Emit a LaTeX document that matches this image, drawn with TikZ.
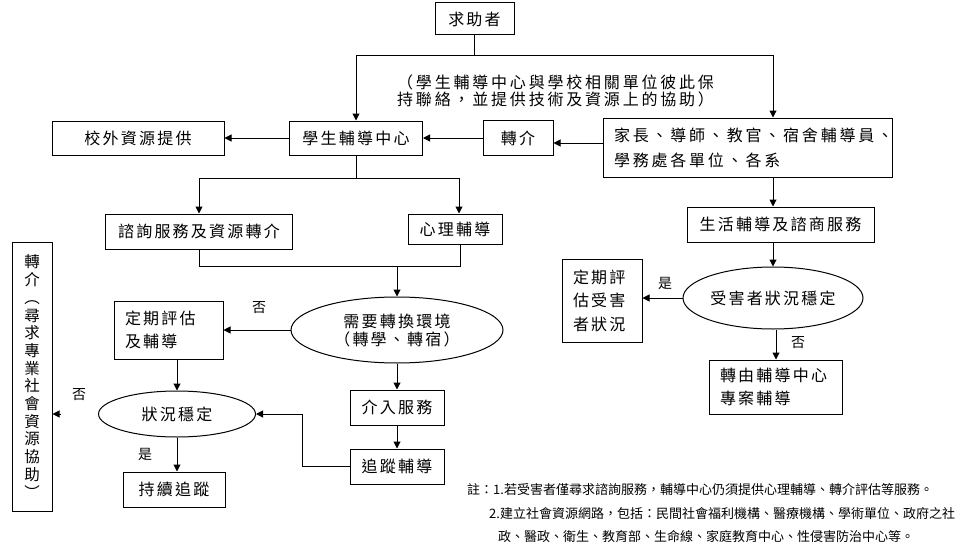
\documentclass[tikz,border=0pt]{standalone}
\usepackage{fontspec}
\setmainfont{Noto Sans CJK TC}
\newfontfamily\bxfont[LetterSpace=14]{Noto Sans CJK TC}
\newfontfamily\bxwide[LetterSpace=17.5]{Noto Sans CJK TC}
\newfontfamily\notefont{Noto Sans CJK TC}
\usetikzlibrary{shapes.geometric,arrows.meta}
\begin{document}
\begin{tikzpicture}[x=1pt,y=-1pt,
  every node/.style={inner sep=0pt},
  box/.style={draw, line width=1pt, font=\bxfont\fontsize{16}{18}\selectfont, align=center},
  lbox/.style={box, align=left, inner xsep=11pt},
  oval/.style={draw, ellipse, line width=1pt, font=\bxfont\fontsize{16}{18}\selectfont, align=center},
  arr/.style={line width=1pt, -{Triangle[length=7pt,width=7pt]}},
  ln/.style={line width=1pt},
  lab/.style={font=\fontsize{14}{17}\selectfont},
  note/.style={anchor=west, font=\notefont\fontsize{13}{16}\selectfont}]
\fill[white] (0,0) rectangle (956,543);
\useasboundingbox (0,0) rectangle (956,543);

% nodes
\node[box, minimum width=79pt, minimum height=32pt] (ask) at (474.5,19) {求助者};
\node[anchor=west, align=left, font=\bxwide\fontsize{16}{17}\selectfont] (ann) at (397,90.5)
  {（學生輔導中心與學校相關單位彼此保\\持聯絡，並提供技術及資源上的協助）};
\node[box, minimum width=172pt, minimum height=34pt] (ext) at (138,138) {校外資源提供};
\node[box, minimum width=133pt, minimum height=34pt] (sc) at (356,138) {學生輔導中心};
\node[box, minimum width=70pt, minimum height=35pt] (ref) at (518,138) {轉介};
\node[lbox, font=\bxwide\fontsize{16}{25}\selectfont, text width=267pt, minimum height=59pt] (par) at (747.5,147.5)
  {家長、導師、教官、宿舍輔導員、\\學務處各單位、各系};
\node[box, minimum width=187pt, minimum height=35pt] (cons) at (199,231.5) {諮詢服務及資源轉介};
\node[box, minimum width=94pt, minimum height=30pt] (psy) at (455,229) {心理輔導};
\node[box, minimum width=187pt, minimum height=35pt] (life) at (780.5,224.5) {生活輔導及諮商服務};
\node[oval, font=\bxfont\fontsize{16}{18}\selectfont, minimum width=212pt, minimum height=66pt] (env) at (397,330)
  {需要轉換環境\\（轉學、轉宿）};
\node[lbox, font=\bxfont\fontsize{16}{23}\selectfont, text width=87pt, minimum height=58pt] (per) at (168.5,330)
  {定期評估\\及輔導};
\node[oval, minimum width=157pt, minimum height=46pt] (stab) at (177,414) {狀況穩定};
\node[box, minimum width=102pt, minimum height=35pt] (cont) at (174,489.5) {持續追蹤};
\node[box, font=\notefont\fontsize{15.5}{17.7}\selectfont, minimum width=40pt, minimum height=269pt] (vref) at (32,376.5)
  {轉\\介\\︵\\尋\\求\\專\\業\\社\\會\\資\\源\\協\\助\\︶};
\node[box, minimum width=94pt, minimum height=35pt] (int) at (397,407.5) {介入服務};
\node[box, minimum width=94pt, minimum height=35pt] (fol) at (397,466.5) {追蹤輔導};
\node[oval, minimum width=180pt, minimum height=62pt] (vic) at (773,298) {受害者狀況穩定};
\node[lbox, font=\bxfont\fontsize{16}{23.5}\selectfont, text width=58pt, minimum height=83pt] (perv) at (602,300.5)
  {定期評\\估受害\\者狀況};
\node[lbox, font=\bxfont\fontsize{16}{23}\selectfont, text width=111pt, minimum height=54pt] (tr) at (775.5,387)
  {轉由輔導中心\\專案輔導};

% labels
\node[lab] (no1) at (259,308) {否};
\node[lab] (yes1) at (145,454) {是};
\node[lab] (no2) at (79,395) {否};
\node[lab] (yes2) at (665,283) {是};
\node[lab] (no3) at (798,343) {否};

% notes
\node[note] (n1) at (467,490) {註：1.若受害者僅尋求諮詢服務，輔導中心仍須提供心理輔導、轉介評估等服務。};
\node[note] (n2) at (489,514) {2.建立社會資源網路，包括：民間社會福利機構、醫療機構、學術單位、政府之社};
\node[note] (n3) at (498,537) {政、醫政、衛生、教育部、生命線、家庭教育中心、性侵害防治中心等。};

% helper coordinates
\coordinate (bus1) at (0,56);
\coordinate (bus2) at (0,178);
\coordinate (bus3) at (0,266);
\coordinate (bend) at (302,0);
\coordinate (parN) at ([xshift=25.5pt]par.north);
\coordinate (psyN) at ([xshift=4pt]psy.north);
\coordinate (psyS) at ([xshift=5pt]psy.south);

% connectors
\draw[ln] (ask.south) -- (ask.south |- bus1);
\draw[arr] (ask.south |- bus1) -| (sc.north);
\draw[arr] (ask.south |- bus1) -| (parN);
\draw[arr] (sc.west) -- (ext.east);
\draw[arr] (ref.west) -- (sc.east);
\draw[arr] ([yshift=4.5pt]par.west) -- ([yshift=4.5pt]par.west -| ref.east);
\draw[ln] (sc.south) -- (sc.south |- bus2);
\draw[arr] (sc.south |- bus2) -| (cons.north);
\draw[arr] (sc.south |- bus2) -| (psyN);
\draw[ln] (cons.south) |- (bus3 -| psyS) -- (psyS);
\draw[arr] (env.north |- bus3) -- (env.north);
\draw[arr] (env.west) -- (env.west -| per.east);
\draw[arr] (env.south) -- (int.north);
\draw[arr] (int.south) -- (fol.north);
\draw[arr] (fol.west) -- (fol.west -| bend) |- (stab.east);
\draw[arr] (stab.north |- per.south) -- (stab.north);
\draw[arr] (stab.south) -- (stab.south |- cont.north);
\draw[arr] ([xshift=8pt]vref.east |- stab.west) -- (vref.east |- stab.west);
\draw[arr] (parN |- par.south) -- (parN |- life.north);
\draw[arr] (life.south -| vic.north) -- (vic.north);
\draw[arr] (vic.west) -- (vic.west -| perv.east);
\draw[arr] ([xshift=3pt]vic.south) -- ([xshift=3pt]vic.south |- tr.north);
\end{tikzpicture}
\end{document}
